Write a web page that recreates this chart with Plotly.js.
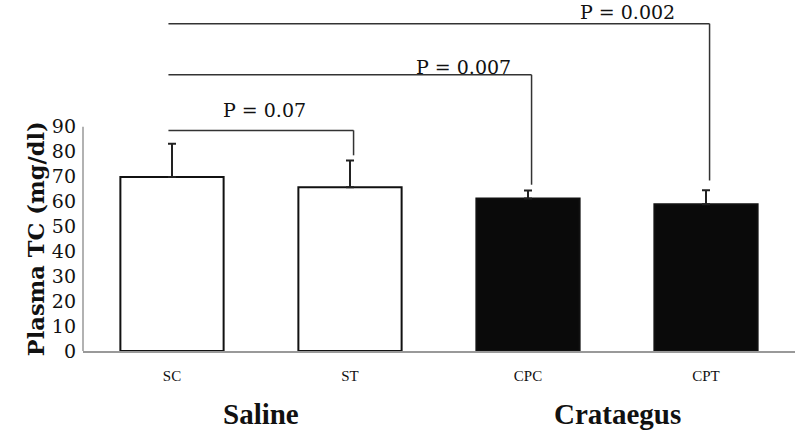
<!DOCTYPE html>
<html>
<head>
<meta charset="utf-8">
<script src="https://cdn.plot.ly/plotly-3.0.1.min.js"></script>
<style>
  html, body { margin: 0; padding: 0; background: #fff; }
  #plot { width: 795px; height: 432px; }
</style>
</head>
<body>
<div id="plot"></div>
<script>
// data
const groups = ['SC', 'ST', 'CPC', 'CPT'];
const meanTC = [69.8, 65.7, 61.2, 58.9];
const errTC = [13.3, 10.7, 3.2, 5.6];
const barColors = ['#ffffff', '#ffffff', '#0a0a0a', '#0a0a0a'];
const yTicks = [0, 10, 20, 30, 40, 50, 60, 70, 80, 90];
const treatments = ['Saline', 'Crataegus'];
const treatmentPos = [0.5, 2.5];

// significance brackets: from group, to group, bracket height, drop end, label
const pFrom = [0, 0, 0];
const pTo = [1, 2, 3];
const pHeight = [88.5, 110.8, 131.3];
const pDrop = [78.5, 66.7, 68.4];
const pLabels = ['P = 0.07', 'P = 0.007', 'P = 0.002'];
const pLabelX = [0.52, 1.64, 2.56];
const pLabelY = [96.5, 113.8, 135.8];

const serif = 'Liberation Serif, DejaVu Serif, serif';
const wideSerif = 'DejaVu Serif, serif';

const bars = {
    x: groups.map((g, i) => i),
    y: meanTC,
    type: 'bar',
    width: 0.58,
    marker: { color: barColors, line: { color: '#111', width: 2 } },
    error_y: {
        type: 'data',
        symmetric: false,
        array: errTC,
        arrayminus: errTC.map(() => 0),
        color: '#222',
        thickness: 2,
        width: 4
    },
    hoverinfo: 'none'
};

const shapes = [];
// y axis line only up to 90
shapes.push({
    type: 'line', xref: 'paper', yref: 'y',
    x0: 0, x1: 0, y0: 0, y1: 90,
    line: { color: '#999', width: 1.5 }
});
for (let i = 0; i < pLabels.length; i++) {
    const a = pFrom[i] - 0.02;
    const b = pTo[i] + 0.02;
    shapes.push({
        type: 'line', xref: 'x', yref: 'y',
        x0: a, x1: b, y0: pHeight[i], y1: pHeight[i],
        line: { color: '#333', width: 1.5 }
    });
    shapes.push({
        type: 'line', xref: 'x', yref: 'y',
        x0: b, x1: b, y0: pHeight[i], y1: pDrop[i],
        line: { color: '#333', width: 1.5 }
    });
}

const annotations = [];
for (let i = 0; i < pLabels.length; i++) {
    annotations.push({
        x: pLabelX[i], y: pLabelY[i], xref: 'x', yref: 'y',
        text: pLabels[i], showarrow: false,
        font: { family: wideSerif, size: 19, color: '#111' }
    });
}
for (let i = 0; i < treatments.length; i++) {
    annotations.push({
        x: treatmentPos[i], y: -0.18, xref: 'x', yref: 'paper',
        yanchor: 'middle',
        text: '<b>' + treatments[i] + '</b>', showarrow: false,
        font: { family: serif, size: 29, color: '#111' }
    });
}
// y axis title
annotations.push({
    x: -0.088, y: 45, xref: 'paper', yref: 'y',
    text: '<b>Plasma TC (mg/dl)</b>', textangle: -90, showarrow: false,
    font: { family: wideSerif, size: 22.5, color: '#111' }
});

const layout = {
    width: 795,
    height: 432,
    margin: { l: 83, r: 0, t: 2, b: 81 },
    paper_bgcolor: '#fff',
    plot_bgcolor: '#fff',
    showlegend: false,
    bargap: 0.42,
    xaxis: {
        range: [-0.5, 3.5],
        tickvals: [0, 1, 2, 3],
        ticktext: groups,
        ticks: '',
        showgrid: false,
        zeroline: false,
        showline: true,
        linecolor: '#999',
        linewidth: 1.5,
        ticklabelstandoff: 10,
        tickfont: { family: serif, size: 15, color: '#111' },
        fixedrange: true
    },
    yaxis: {
        range: [0, 140],
        tickvals: yTicks,
        ticks: '',
        showgrid: false,
        zeroline: false,
        showline: false,
        ticklabelstandoff: 6,
        tickfont: { family: wideSerif, size: 19, color: '#111' },
        fixedrange: true
    },
    shapes: shapes,
    annotations: annotations
};

Plotly.newPlot('plot', [bars], layout, { displayModeBar: false, staticPlot: true });
</script>
</body>
</html>
